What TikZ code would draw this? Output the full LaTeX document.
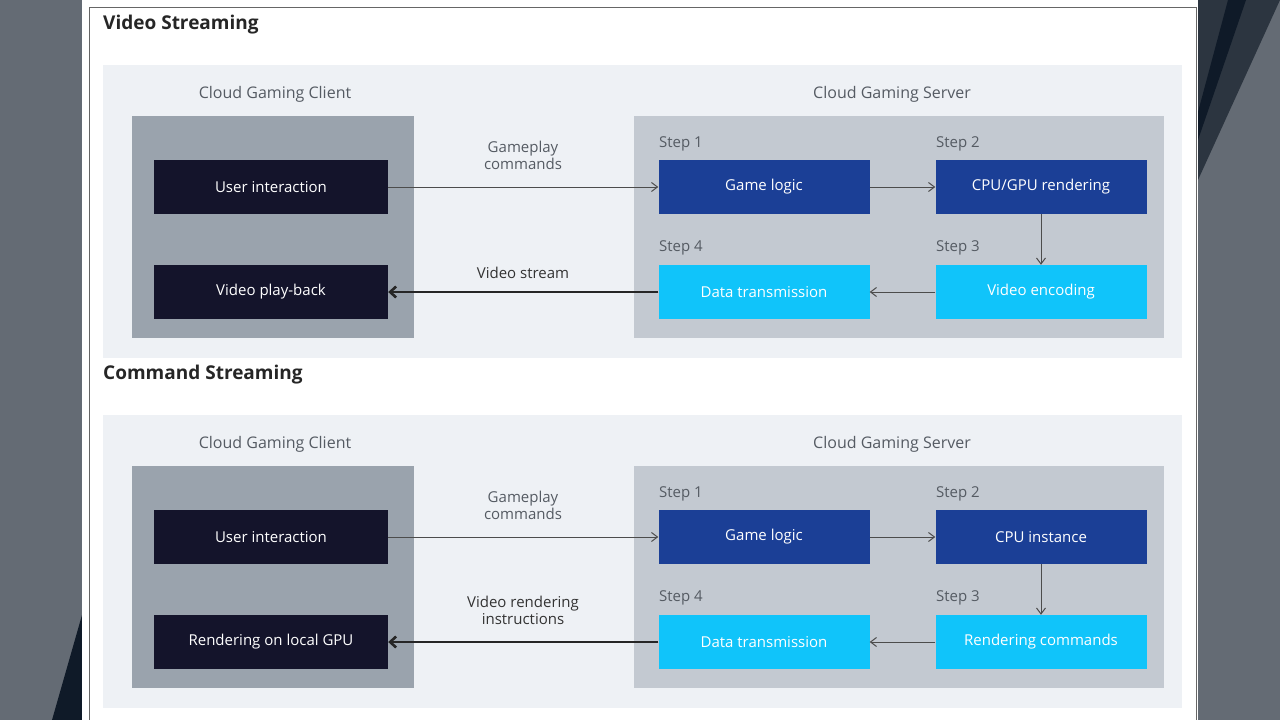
\documentclass[tikz,border=0pt]{standalone}
\usepackage{fontspec}
\setmainfont{Open Sans}
\usetikzlibrary{arrows.meta}
\definecolor{slate}{HTML}{646B74}
\definecolor{navyband}{HTML}{0F1A28}
\definecolor{darkband}{HTML}{2C3540}
\definecolor{lightpanel}{HTML}{EEF1F5}
\definecolor{clientbg}{HTML}{9AA3AD}
\definecolor{serverbg}{HTML}{C3C9D1}
\definecolor{darkbox}{HTML}{14142B}
\definecolor{bluebox}{HTML}{1B3F96}
\definecolor{cyanbox}{HTML}{10C4FA}
\definecolor{labelgray}{HTML}{555B63}
\tikzset{
  box/.style={minimum width=234pt,minimum height=54pt,inner sep=0pt,text=white,font=\fontsize{15}{17}\selectfont},
  srv/.style={box,minimum width=211pt},
  lbl/.style={text=labelgray,font=\fontsize{16}{18}\selectfont},
  steplbl/.style={text=labelgray,anchor=west,inner sep=0pt,font=\fontsize{15}{17}\selectfont},
  ttl/.style={anchor=west,inner sep=0pt,text=black!85,font=\fontsize{19}{21}\selectfont\bfseries},
  thin/.style={draw=black!70,line width=1pt,-{Straight Barb[length=6pt,width=9pt]}},
  thick/.style={draw=black!85,line width=2.6pt,-{Straight Barb[length=6pt,width=11pt]}},
  mid/.style={text=labelgray,align=center,font=\fontsize{15}{17}\selectfont}
}
\begin{document}
\begin{tikzpicture}[x=1pt,y=-1pt]
\useasboundingbox (0,0) rectangle (1280,720);
\fill[slate] (0,0) rectangle (1280,720);
\fill[darkband] (1198,0) -- (1280,0) -- (1198,180) -- cycle;
\fill[navyband] (1198,112) -- (1228,0) -- (1246,0) -- (1198,140) -- cycle;
\fill[navyband] (82,615) -- (82,720) -- (52,720) -- cycle;
\fill[white] (82,0) rectangle (1198,720);
\draw[black!60,line width=1pt] (89,722) -- (89,7) -- (1196,7) -- (1196,722);
\foreach \dy/\ttext/\stwo/\sthree/\dtext/\midtext/\cl in {0/Video Streaming/CPU\slash GPU rendering/Video encoding/Video play-back/Video stream/v, 350/Command Streaming/CPU instance/Rendering commands/Rendering on local GPU/{Video rendering\\instructions}/c}{
  \begin{scope}[yshift=-\dy pt]
  \node[ttl] (t\cl) at (103,25) {\ttext};
  \fill[lightpanel] (103,65) rectangle (1182,358);
  \fill[clientbg] (132,116) rectangle (414,338);
  \fill[serverbg] (634,116) rectangle (1164,338);
  \node[lbl] (cl\cl) at (275,94) {Cloud Gaming Client};
  \node[lbl] (sl\cl) at (892,94) {Cloud Gaming Server};
  \node[box,fill=darkbox] (u\cl) at (271,187) {User interaction};
  \node[box,fill=darkbox] (p\cl) at (271,292) {\dtext};
  \node[srv,fill=bluebox] (g\cl) at (764,187) {Game logic};
  \node[srv,fill=bluebox] (r\cl) at (1041,187) {\stwo};
  \node[srv,fill=cyanbox] (d\cl) at (764,292) {Data transmission};
  \node[srv,fill=cyanbox] (e\cl) at (1041,292) {\sthree};
  \node[steplbl] (s1\cl) at (659,144) {Step 1};
  \node[steplbl] (s2\cl) at (936,144) {Step 2};
  \node[steplbl] (s4\cl) at (659,248) {Step 4};
  \node[steplbl] (s3\cl) at (936,248) {Step 3};
  \node[mid] (m1\cl) at (523,155) {Gameplay\\commands};
  \draw[thin] (u\cl) -- (g\cl);
  \draw[thin] (g\cl) -- (r\cl);
  \draw[thin] (r\cl) -- (e\cl);
  \draw[thin] (e\cl) -- (d\cl);
  \draw[thick] (d\cl) -- (p\cl);
  \end{scope}
}
\node[mid,text=black!80] (m2v) at (523,273) {Video stream};
\node[mid,text=black!80] (m2c) at (523,610) {Video rendering\\instructions};
\end{tikzpicture}
\end{document}
